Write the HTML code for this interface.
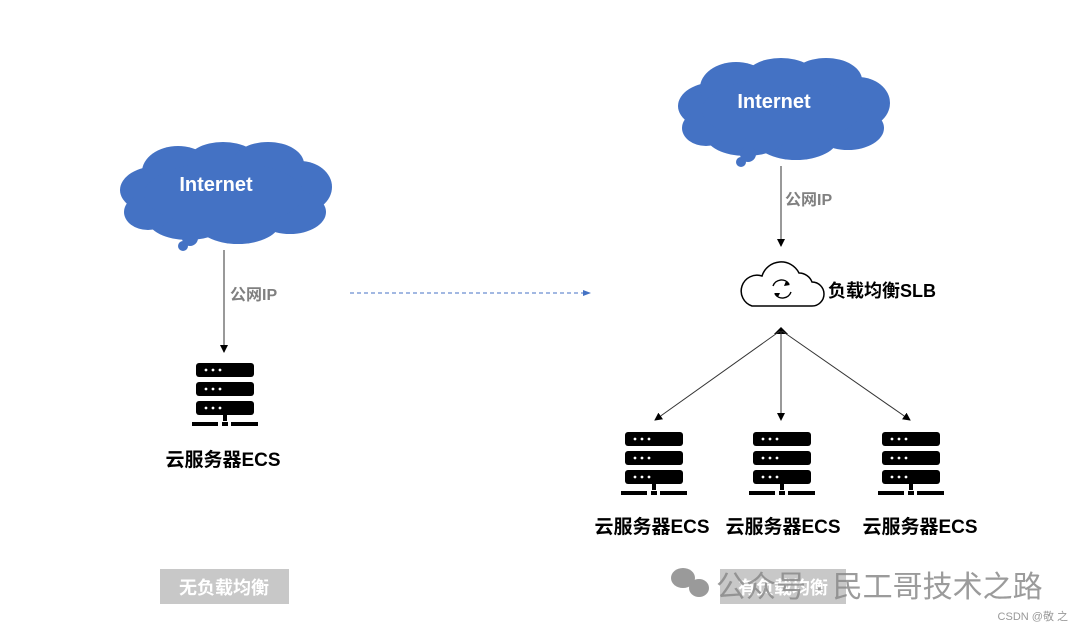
<!DOCTYPE html>
<html><head><meta charset="utf-8"><style>
body{margin:0;background:#fff;}
svg text{font-family:"Liberation Sans","Noto Sans CJK SC",sans-serif;}
</style></head><body>
<svg width="1080" height="629" viewBox="0 0 1080 629" xmlns="http://www.w3.org/2000/svg">
<defs>
<g id="cloud">
 <ellipse cx="40" cy="48" rx="38" ry="24"/>
 <ellipse cx="60" cy="30" rx="36" ry="26"/>
 <ellipse cx="105" cy="20" rx="36" ry="20"/>
 <ellipse cx="150" cy="22" rx="36" ry="22"/>
 <ellipse cx="182" cy="45" rx="32" ry="26"/>
 <ellipse cx="172" cy="70" rx="36" ry="22"/>
 <ellipse cx="120" cy="80" rx="42" ry="22"/>
 <ellipse cx="70" cy="78" rx="40" ry="20"/>
 <ellipse cx="30" cy="70" rx="24" ry="18"/>
 <ellipse cx="106" cy="52" rx="80" ry="32"/>
 <circle cx="72" cy="96" r="8"/>
 <circle cx="65" cy="104" r="5"/>
</g>
<g id="srv">
 <rect x="0" y="0" width="58" height="14" rx="3" fill="#000"/>
 <rect x="0" y="19" width="58" height="14" rx="3" fill="#000"/>
 <rect x="0" y="38" width="58" height="14" rx="3" fill="#000"/>
 <g fill="#fff"><circle cx="10" cy="7" r="1.4"/><circle cx="17" cy="7" r="1.4"/><circle cx="24" cy="7" r="1.4"/>
 <circle cx="10" cy="26" r="1.4"/><circle cx="17" cy="26" r="1.4"/><circle cx="24" cy="26" r="1.4"/>
 <circle cx="10" cy="45" r="1.4"/><circle cx="17" cy="45" r="1.4"/><circle cx="24" cy="45" r="1.4"/></g>
 <rect x="27" y="52" width="4" height="6" fill="#000"/>
 <rect x="-4" y="59" width="26" height="4" fill="#000"/>
 <rect x="26" y="59" width="6" height="4" fill="#000"/>
 <rect x="35" y="59" width="27" height="4" fill="#000"/>
</g>
<marker id="ar" markerWidth="8" markerHeight="8" refX="7" refY="4" orient="auto" markerUnits="userSpaceOnUse"><path d="M0,0 L8,4 L0,8 z" fill="#000"/></marker>
<marker id="arb" markerWidth="8" markerHeight="8" refX="7" refY="4" orient="auto" markerUnits="userSpaceOnUse"><path d="M0,1 L8,4 L0,7 z" fill="#4472c4"/></marker>
</defs>

<g fill="#4472c4"><use href="#cloud" transform="translate(118,142)"/></g>
<text x="216" y="191" font-size="20" font-weight="bold" fill="#fff" text-anchor="middle">Internet</text>
<g fill="#4472c4"><use href="#cloud" transform="translate(676,58)"/></g>
<text x="774" y="108" font-size="20" font-weight="bold" fill="#fff" text-anchor="middle">Internet</text>

<line x1="224" y1="250" x2="224" y2="352" stroke="#555" stroke-width="1.2" marker-end="url(#ar)"/>
<text x="230" y="300" font-size="16" font-weight="bold" fill="#808080">公网IP</text>
<line x1="350" y1="293" x2="590" y2="293" stroke="#4472c4" stroke-width="1" stroke-dasharray="4,3" marker-end="url(#arb)"/>

<line x1="781" y1="166" x2="781" y2="246" stroke="#555" stroke-width="1.2" marker-end="url(#ar)"/>
<text x="785" y="205" font-size="16" font-weight="bold" fill="#808080">公网IP</text>

<path d="M752,306 H812 A12,12 0 0 0 812,282 A14,14 0 0 0 799,273 A20,20 0 0 0 762,276 A15,15 0 0 0 752,306 Z" fill="none" stroke="#000" stroke-width="1.5"/>
<path d="M773,286 A9,9 0 0 1 789,284" fill="none" stroke="#000" stroke-width="1.4"/>
<path d="M791,292 A9,9 0 0 1 775,294" fill="none" stroke="#000" stroke-width="1.4"/>
<path d="M786,281 L790,285 L784,286 z M778,297 L774,293 L780,293z" fill="#000"/>
<text x="828" y="297" font-size="18" font-weight="bold" fill="#000">负载均衡SLB</text>

<path d="M774,334 L781,327 L788,334 z" fill="#000"/>
<line x1="780" y1="331" x2="655" y2="420" stroke="#333" stroke-width="1" marker-end="url(#ar)"/>
<line x1="781" y1="331" x2="781" y2="420" stroke="#333" stroke-width="1" marker-end="url(#ar)"/>
<line x1="782" y1="331" x2="910" y2="420" stroke="#333" stroke-width="1" marker-end="url(#ar)"/>

<use href="#srv" transform="translate(196,363)"/>
<use href="#srv" transform="translate(625,432)"/>
<use href="#srv" transform="translate(753,432)"/>
<use href="#srv" transform="translate(882,432)"/>

<g font-size="19" font-weight="bold" fill="#000" text-anchor="middle">
<text x="223" y="466">云服务器ECS</text>
<text x="652" y="533">云服务器ECS</text>
<text x="783" y="533">云服务器ECS</text>
<text x="920" y="533">云服务器ECS</text>
</g>

<rect x="160" y="569" width="129" height="35" fill="#c8c8c8"/>
<text x="224" y="594" font-size="18" font-weight="bold" fill="#fff" text-anchor="middle">无负载均衡</text>
<rect x="720" y="569" width="126" height="35" fill="#c8c8c8"/>
<text x="783" y="594" font-size="18" font-weight="bold" fill="#fff" text-anchor="middle">有负载均衡</text>

<g fill="#9a9a9a"><ellipse cx="683" cy="578" rx="12" ry="10"/><ellipse cx="699" cy="588" rx="10" ry="9"/></g>
<text x="716" y="597" font-size="30" fill="#8a8a8a" fill-opacity="0.85">公众号 · 民工哥技术之路</text>
<text x="1068" y="620" font-size="11" fill="#999" text-anchor="end">CSDN @敬 之</text>
</svg>
</body></html>
